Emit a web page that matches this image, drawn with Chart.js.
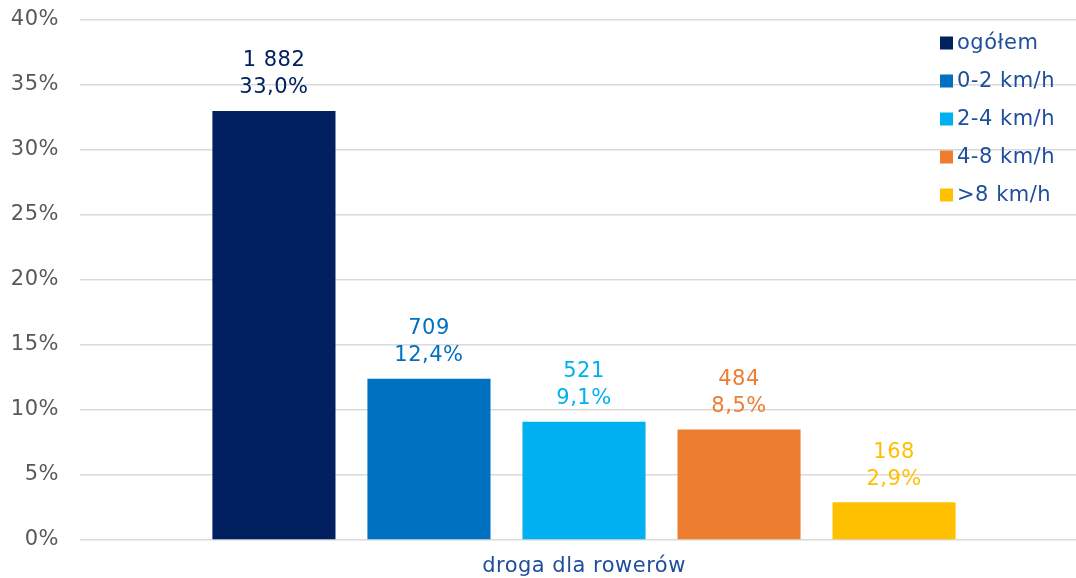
<!DOCTYPE html>
<html lang="pl">
<head>
<meta charset="utf-8">
<title>Droga dla rowerów – struktura prędkości</title>
<script src="https://cdn.jsdelivr.net/npm/chart.js@4/dist/chart.umd.min.js"></script>
<style>
  html, body { margin: 0; padding: 0; background: #ffffff; overflow: hidden; }
  #wrap { position: relative; width: 1088px; height: 578px; }
</style>
</head>
<body>
<div id="wrap"><canvas id="chart"></canvas></div>
<script>
// Category and series
const categories = ['droga dla rowerów'];
const seriesNames = ['ogółem', '0-2 km/h', '2-4 km/h', '4-8 km/h', '>8 km/h'];
const seriesColors = ['#002060', '#0070C0', '#00B0F0', '#ED7D31', '#FFC000'];
// Share of all records (%) and number of records per series
const sharePercent = [33.0, 12.4, 9.1, 8.5, 2.9];
const recordCounts = [1882, 709, 521, 484, 168];
// Value axis
const yTickMin = 0;
const yTickMax = 40;
const yTickStep = 5;

const FONT = '"DejaVu Sans", Verdana, sans-serif';
const FONT_SIZE = 21;
const TEXT_BLUE = '#1F4E9B';

function formatCount(n) {
  return String(n).replace(/\B(?=(\d{3})+(?!\d))/g, ' ');
}
function formatPercent(v) {
  return v.toFixed(1).replace('.', ',') + '%';
}

// Slightly wider letter spacing for all canvas text
const textSpacing = {
  id: 'textSpacing',
  beforeDraw(chart) {
    chart.ctx.letterSpacing = '0.5px';
  }
};

// Two-line value labels (count over percentage) above each bar
const barLabels = {
  id: 'barLabels',
  afterDatasetsDraw(chart) {
    const ctx = chart.ctx;
    ctx.save();
    ctx.font = FONT_SIZE + 'px ' + FONT;
    ctx.textAlign = 'center';
    ctx.textBaseline = 'middle';
    chart.data.datasets.forEach((ds, i) => {
      const meta = chart.getDatasetMeta(i);
      meta.data.forEach((bar, j) => {
        ctx.fillStyle = ds.backgroundColor;
        ctx.fillText(formatCount(ds.counts[j]), bar.x, bar.y - 50);
        ctx.fillText(formatPercent(ds.data[j]), bar.x, bar.y - 23);
      });
    });
    ctx.restore();
  }
};

// Vertical legend laid over the upper right part of the plot
const overlayLegend = {
  id: 'overlayLegend',
  afterDraw(chart) {
    const ctx = chart.ctx;
    const left = 940, top = 43, step = 38, box = 13;
    ctx.save();
    ctx.font = FONT_SIZE + 'px ' + FONT;
    ctx.textAlign = 'left';
    ctx.textBaseline = 'middle';
    chart.data.datasets.forEach((ds, i) => {
      const cy = top + i * step;
      ctx.fillStyle = ds.backgroundColor;
      ctx.fillRect(left, cy - box / 2, box, box);
      ctx.fillStyle = TEXT_BLUE;
      ctx.fillText(ds.label, left + box + 4, cy + 1);
    });
    ctx.restore();
  }
};

const datasets = seriesNames.map((name, i) => ({
  label: name,
  data: [sharePercent[i]],
  counts: [recordCounts[i]],
  backgroundColor: seriesColors[i],
  borderWidth: 0,
  categoryPercentage: 0.769,
  barPercentage: 0.794
}));

new Chart(document.getElementById('chart'), {
  type: 'bar',
  data: { labels: categories, datasets },
  options: {
    responsive: true,
    maintainAspectRatio: false,
    animation: false,
    layout: { padding: { top: 20, left: 0, right: 0, bottom: 0 } },
    plugins: {
      legend: { display: false },
      tooltip: { enabled: false }
    },
    scales: {
      x: {
        grid: { display: false, drawTicks: false },
        border: { display: false },
        ticks: {
          color: TEXT_BLUE,
          font: { family: FONT, size: FONT_SIZE },
          padding: 14
        },
        afterFit(scale) { scale.height = 38; }
      },
      y: {
        min: yTickMin,
        max: yTickMax,
        grid: { color: '#D9D9D9', lineWidth: 1.5, drawTicks: false },
        border: { display: false },
        ticks: {
          stepSize: yTickStep,
          color: '#595959',
          font: { family: FONT, size: FONT_SIZE },
          padding: 21,
          callback: (v) => v + '%'
        },
        afterFit(scale) {
          scale.width = 80;
          scale.paddingTop = 0;
          scale.paddingBottom = 0;
        }
      }
    }
  },
  plugins: [textSpacing, barLabels, overlayLegend]
});
</script>
</body>
</html>
